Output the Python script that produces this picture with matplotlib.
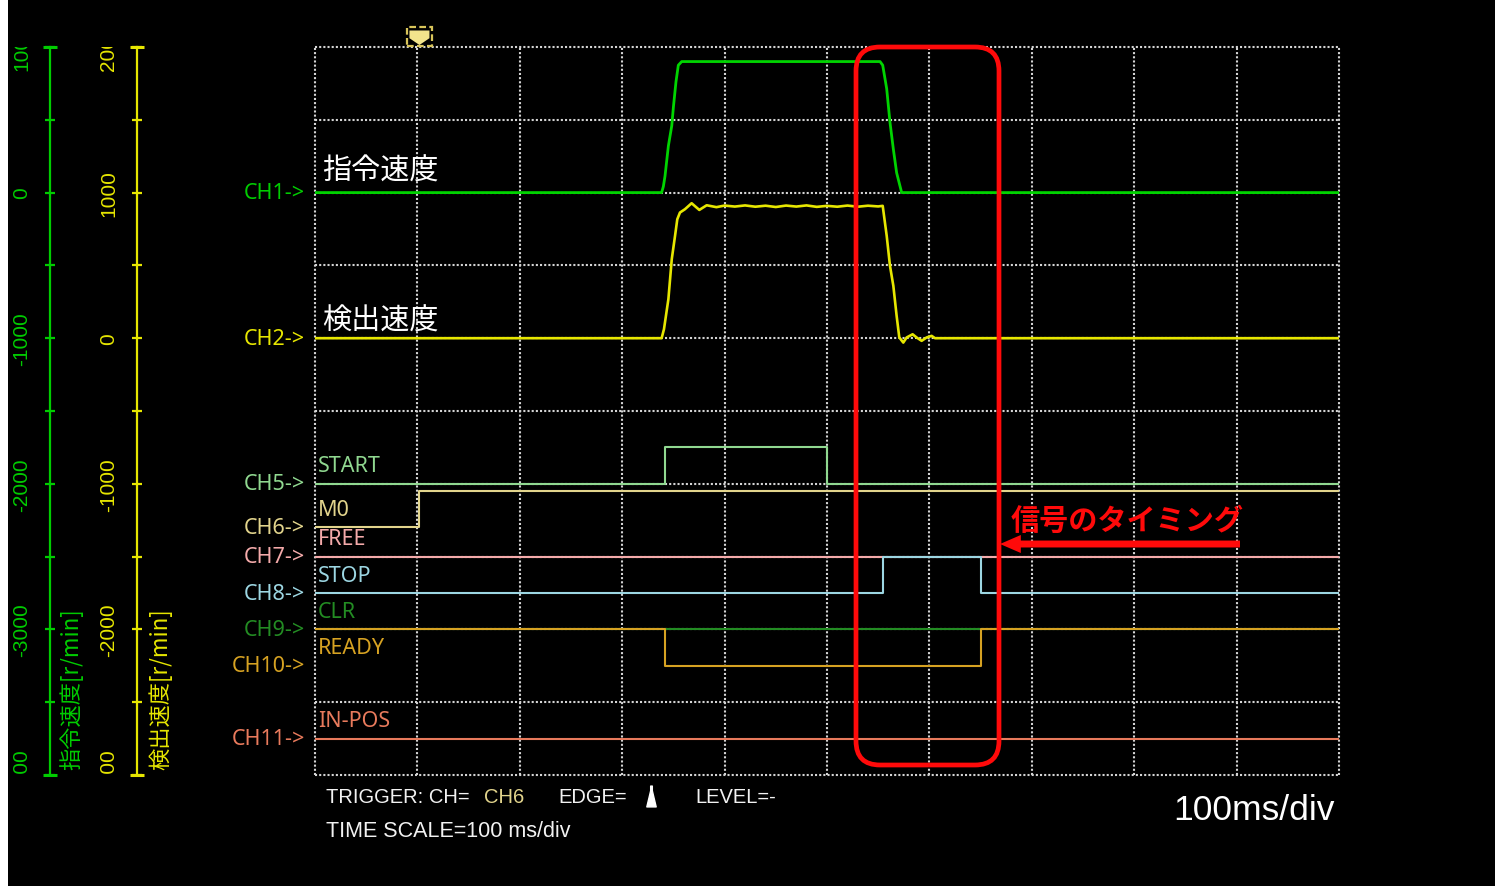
import numpy as np
import matplotlib
matplotlib.use('Agg')
import matplotlib.pyplot as plt
import matplotlib.transforms as mtransforms
from matplotlib.patches import Rectangle, FancyBboxPatch, FancyArrowPatch, Polygon
from matplotlib.lines import Line2D
from matplotlib.path import Path
from matplotlib import font_manager as fm

# ---------------- data ----------------
# CH1 command speed [r/min] vs time [ms]
cmd_time = [0, 338.5, 340.2, 341.8, 345.1, 348.4, 350.0, 352.5, 354.8, 358.1,
            551.8, 554.4, 558.3, 561.5, 564.8, 568.0, 572.9, 1000]
cmd_speed = [0, 0, 42, 113, 321, 459, 587, 760, 875, 900,
             900, 875, 713, 483, 298, 136, 0, 0]

# CH2 detected speed [r/min] vs time [ms]
det_time = [0, 338.5, 340.8, 345.1, 348.4, 351.6, 353.8, 356.4, 361.3, 367.8, 375.3, 382.5,
            392, 400, 410, 420, 430, 440, 450, 460, 470, 480, 490, 500, 510, 520, 530, 540, 550,
            554.4, 558.3, 561.5, 564.8, 568.0, 570.6, 574.5, 577.8, 583.6, 587.5, 592.4,
            597.3, 602.2, 605.5, 1000]
det_speed = [0, 0, 62, 268, 543, 703, 817, 863, 886, 927, 881, 913,
             900, 911, 904, 912, 903, 910, 901, 911, 904, 912, 902, 909, 903, 911, 903, 910, 905,
             909, 703, 497, 359, 153, 5, -30, 5, 27, 5, -18,
             5, 16, 0, 0]

# digital channels: transition times [ms] and states
sig_names = ['START', 'M0', 'FREE', 'STOP', 'CLR', 'READY', 'IN-POS']
sig_channels = ['CH5', 'CH6', 'CH7', 'CH8', 'CH9', 'CH10', 'CH11']
start_t, start_v = [0, 342, 500, 1000], [0, 1, 0, 0]
m0_t, m0_v = [0, 102, 1000], [0, 1, 1]
free_t, free_v = [0, 1000], [0, 0]
stop_t, stop_v = [0, 555, 650, 1000], [0, 1, 0, 0]
clr_t, clr_v = [0, 1000], [0, 0]
ready_t, ready_v = [0, 342, 650, 1000], [1, 0, 1, 1]
inpos_t, inpos_v = [0, 1000], [0, 0]

trigger_t = 102
trigger_ch = 'CH6'
time_scale = 100  # ms/div

green_ticks = [-4000, -3500, -3000, -2500, -2000, -1500, -1000, -500, 0, 500, 1000]
yellow_ticks = [-3000, -2500, -2000, -1500, -1000, -500, 0, 500, 1000, 1500, 2000]

# ---------------- style ----------------
names = {f.name for f in fm.fontManager.ttflist}
NARROW = 'Liberation Sans Narrow' if 'Liberation Sans Narrow' in names else 'Liberation Sans'
CJK = ['Noto Sans CJK JP', 'DejaVu Sans']
UI = 'Noto Sans'

GREEN = '#00cc00'
YELLOW = '#e6e600'
GRID = '#d4d4d4'
RED = '#ff0a0a'
dig_base = [4.0, 3.4, 3.0, 2.5, 2.0, 1.5, 0.5]
dig_colors = ['#90d890', '#e2d48c', '#f4aaaa', '#9cd6e2', '#238c23', '#d6a222', '#e87a5c']
amp = 0.5

W, H = 1495, 887
L, R, T, B = 315, 1339, 48, 776

fig = plt.figure(figsize=(W / 100, H / 100), dpi=100, facecolor='black')
fig.add_artist(Rectangle((0, 0), 8 / W, 1, transform=fig.transFigure,
                         facecolor='white', edgecolor='none', zorder=-10))

ax = fig.add_axes([L / W, 1 - B / H, (R - L) / W, (B - T) / H])
ax.set_facecolor('black')
ax.set_xlim(0, 1000)
ax.set_ylim(0, 10)
ax.set_xticks(np.arange(time_scale, 1000, time_scale))
ax.set_yticks(np.arange(1, 10, 1))
ax.tick_params(length=0, labelbottom=False, labelleft=False)
ax.grid(True, color=GRID, linestyle=(0, (1, 1)), linewidth=1.5)
for s in ax.spines.values():
    s.set_color(GRID)
    s.set_linestyle((0, (1, 1)))
    s.set_linewidth(1.5)
    s.set_capstyle('butt')

clip = mtransforms.TransformedBbox(mtransforms.Bbox([[0, 1 - B / H], [1, 1 - T / H]]),
                                   fig.transFigure)


def scale_axis(ticks, color, spine_px, label, label_px):
    a = ax.twinx()
    a.set_ylim(ticks[0], ticks[-1])
    a.yaxis.tick_left()
    for k in ('right', 'top', 'bottom'):
        a.spines[k].set_visible(False)
    sp = a.spines['left']
    sp.set_visible(True)
    sp.set_color(color)
    sp.set_linewidth(1.6)
    sp.set_position(('outward', (L - spine_px) * 0.72))
    a.yaxis.remove_overlapping_locs = False
    a.set_yticks(ticks, [f'{v}' if v % 1000 == 0 else '' for v in ticks])
    a.set_yticks([ticks[0], ticks[-1]], minor=True)
    a.tick_params(axis='y', which='major', direction='inout', length=7, width=1.6,
                  color=color, labelcolor=color, labelsize=15, pad=10.0, labelrotation=90)
    a.tick_params(axis='y', which='minor', direction='inout', length=10, width=2.2,
                  color=color)
    for lab in a.get_yticklabels():
        lab.set_fontfamily(NARROW)
        lab.set_va('center')
        lab.set_clip_box(clip)
        lab.set_clip_on(True)
    a.set_ylabel(label, color=color, fontsize=16, fontfamily=CJK)
    a.yaxis.set_label_coords((label_px - L) / (R - L), (B - 770) / (B - T))
    yl = a.yaxis.label
    yl.set_rotation(90)
    yl.set_rotation_mode('anchor')
    yl.set_ha('left')
    yl.set_va('center')
    return a


axg = scale_axis(green_ticks, GREEN, 50, '指令速度[r/min]', 71)
axy = scale_axis(yellow_ticks, YELLOW, 137, '検出速度[r/min]', 160)

# analog traces
axg.plot(cmd_time, cmd_speed, color='#00d400', lw=2.0, zorder=3)
axy.plot(det_time, det_speed, color=YELLOW, lw=1.9, zorder=3)

# digital traces
dig_t = [start_t, m0_t, free_t, stop_t, clr_t, ready_t, inpos_t]
dig_v = [start_v, m0_v, free_v, stop_v, clr_v, ready_v, inpos_v]
for t, v, base, c in zip(dig_t, dig_v, dig_base, dig_colors):
    ax.plot(t, base + amp * np.asarray(v), drawstyle='steps-post', color=c, lw=1.5, zorder=3)

blend = mtransforms.blended_transform_factory(ax.transAxes, ax.transData)
# channel labels
ch_labels = ['CH1', 'CH2'] + sig_channels
ch_levels = [8.0, 6.0] + dig_base
ch_colors = [GREEN, YELLOW] + dig_colors
for name, lv, c in zip(ch_labels, ch_levels, ch_colors):
    ax.text(-10 / (R - L), lv, name + '->', transform=blend, ha='right', va='center',
            color=c, fontsize=15.5, fontfamily=UI)
for name, lv, c in zip(sig_names, dig_base, dig_colors):
    ax.text(3 / (R - L), lv + 0.245, name, transform=blend, ha='left', va='center',
            color=c, fontsize=15.5, fontfamily=UI)

ax.text(7 / (R - L), 8.30, '指令速度', transform=blend, ha='left', va='center',
        color='white', fontsize=21, fontfamily=CJK)
ax.text(7 / (R - L), 6.24, '検出速度', transform=blend, ha='left', va='center',
        color='white', fontsize=21, fontfamily=CJK)

# trigger marker (inches around trigger point on the top border)
trig = fig.dpi_scale_trans + mtransforms.ScaledTranslation(trigger_t, 10, ax.transData)
ax.add_artist(Polygon([(-0.10, 0.165), (0.10, 0.165), (0.10, 0.088), (0.0, 0.02), (-0.10, 0.088)],
                      closed=True, transform=trig, facecolor='#f2e48c', edgecolor='none',
                      clip_on=False, zorder=5))
ax.add_artist(Rectangle((-0.125, 0.01), 0.25, 0.19, transform=trig, facecolor='none',
                        edgecolor='#d8c45a', linestyle=(0, (3, 1.5)), lw=1.6,
                        clip_on=False, zorder=5))

# ---------------- annotations (image pixel coordinates) ----------------
pxT = mtransforms.Affine2D().scale(1 / W, -1 / H).translate(0, 1) + fig.transFigure

fig.add_artist(FancyBboxPatch((856, 48), 143, 718,
                              boxstyle='round,pad=0,rounding_size=24',
                              transform=pxT, facecolor='none', edgecolor=RED, lw=3.4,
                              zorder=10))
fig.add_artist(FancyArrowPatch((1240, 545), (1000, 545), transform=pxT,
                               arrowstyle='simple,head_length=1.5,head_width=1.3,tail_width=0.5',
                               mutation_scale=10, color=RED, lw=0, shrinkA=0, shrinkB=0,
                               zorder=10))
fig.text(1011 / W, 1 - 521 / H, '信号のタイミング', color=RED, fontsize=21, fontweight='bold',
         fontfamily=CJK, ha='left', va='center')


def ftxt(xp, yp, s, **kw):
    kw.setdefault('color', '#f2f2f2')
    kw.setdefault('fontsize', 14.5)
    kw.setdefault('fontfamily', NARROW)
    kw.setdefault('va', 'center')
    fig.text(xp / W, 1 - yp / H, s, **kw)


ftxt(326, 798, 'TRIGGER: CH=')
ftxt(484, 798, trigger_ch, color=dig_colors[1])
ftxt(558, 798, 'EDGE=')
ftxt(695, 798, 'LEVEL=-')
ftxt(326, 832, f'TIME SCALE={time_scale} ms/div', fontsize=15.5)
edge_marker = Path([(-0.08, 1), (0.08, 1), (0.08, 0.55), (0.45, -1), (-0.45, -1), (-0.08, 0.55), (-0.08, 1)],
                   [Path.MOVETO] + [Path.LINETO] * 5 + [Path.CLOSEPOLY])
fig.add_artist(Line2D([651 / W], [1 - 797 / H], marker=edge_marker, markersize=15,
                      color='white', linestyle='none', transform=fig.transFigure))
ftxt(1335, 811, f'{time_scale}ms/div', ha='right', fontsize=25.5, fontfamily='Liberation Sans',
     color='white')

fig.savefig('out.png', dpi=100, facecolor='black')
